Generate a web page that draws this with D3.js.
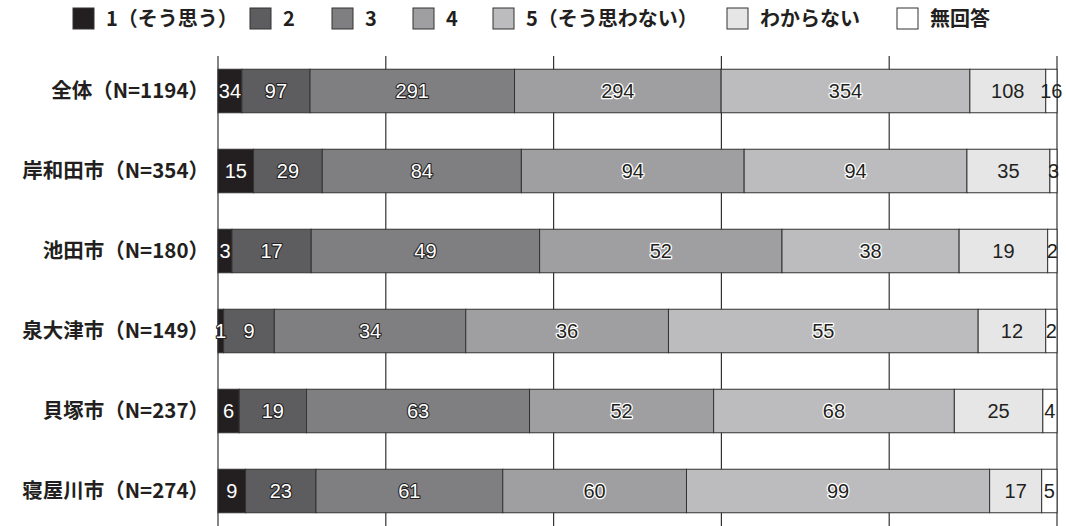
<!DOCTYPE html>
<html>
<head>
<meta charset="utf-8">
<script src="https://cdn.jsdelivr.net/npm/d3@7"></script>
<style>
  html, body { margin: 0; padding: 0; background: #fff; }
  svg { display: block; }
</style>
</head>
<body>
<svg id="chart" width="1066" height="526"></svg>
<script>
// Response categories (legend order, left to right in each bar)
const seriesNames = ["1（そう思う）", "2", "3", "4", "5（そう思わない）", "わからない", "無回答"];
const seriesColors = ["#231f20", "#5d5d5f", "#7f7f82", "#9f9fa2", "#bcbcbe", "#e6e6e7", "#ffffff"];

// Groups (rows)
const groups = ["全体（N=1194）", "岸和田市（N=354）", "池田市（N=180）", "泉大津市（N=149）", "貝塚市（N=237）", "寝屋川市（N=274）"];

// Counts per response category for each group
const counts1 = [34, 15, 3, 1, 6, 9];
const counts2 = [97, 29, 17, 9, 19, 23];
const counts3 = [291, 84, 49, 34, 63, 61];
const counts4 = [294, 94, 52, 36, 52, 60];
const counts5 = [354, 94, 38, 55, 68, 99];
const countsDK = [108, 35, 19, 12, 25, 17];
const countsNA = [16, 3, 2, 2, 4, 5];

const seriesCounts = [counts1, counts2, counts3, counts4, counts5, countsDK, countsNA];

// Gridline positions (share of the total)
const gridTicks = [0, 0.2, 0.4, 0.6, 0.8, 1.0];

const svg = d3.select("#chart");

const x = d3.scaleLinear().domain([0, 1]).range([218, 1057]);
const y = d3.scaleBand().domain(groups).range([51, 531]).paddingInner(0.456).paddingOuter(0.228);

// Build stacked rows as proportions of each group's total
const rows = groups.map((g, gi) => {
  const vals = seriesCounts.map(s => s[gi]);
  const total = d3.sum(vals);
  let acc = 0;
  return vals.map((v, si) => {
    const seg = { group: g, series: si, value: v, x0: acc / total, x1: (acc + v) / total };
    acc += v;
    return seg;
  });
});

// Vertical gridlines
svg.append("g")
  .selectAll("line")
  .data(gridTicks)
  .join("line")
  .attr("x1", d => x(d)).attr("x2", d => x(d))
  .attr("y1", 56).attr("y2", 526)
  .attr("stroke", "#333")
  .attr("stroke-width", 1.2);

// Bars
const segs = rows.flat();
svg.append("g")
  .selectAll("rect")
  .data(segs)
  .join("rect")
  .attr("x", d => x(d.x0))
  .attr("y", d => y(d.group))
  .attr("width", d => x(d.x1) - x(d.x0))
  .attr("height", y.bandwidth())
  .attr("fill", d => seriesColors[d.series])
  .attr("stroke", "#333")
  .attr("stroke-width", 1);

// Value labels: outlined white text on the dark segments, haloed dark text on the mid greys
const labelG = svg.append("g")
  .attr("font-family", "'Liberation Sans', Arial, sans-serif")
  .attr("font-size", 20)
  .attr("text-anchor", "middle");

labelG.selectAll("text")
  .data(segs)
  .join("text")
  .attr("x", d => (x(d.x0) + x(d.x1)) / 2)
  .attr("y", d => y(d.group) + y.bandwidth() / 2)
  .attr("dy", "0.36em")
  .attr("paint-order", "stroke")
  .attr("stroke-linejoin", "round")
  .attr("fill", d => d.series <= 2 ? "#ffffff" : "#231f20")
  .attr("stroke", d => d.series <= 2 ? "#231f20" : (d.series <= 4 ? "#ffffff" : "none"))
  .attr("stroke-width", d => d.series <= 2 ? 2.2 : 2.5)
  .text(d => d.value);

// Group labels
svg.append("g")
  .attr("font-family", "'Noto Sans CJK JP', sans-serif")
  .attr("font-weight", "bold")
  .attr("font-size", 20.5)
  .attr("text-anchor", "end")
  .attr("fill", "#231f20")
  .selectAll("text")
  .data(groups)
  .join("text")
  .attr("x", 209)
  .attr("y", d => y(d) + y.bandwidth() / 2)
  .attr("dy", "0.36em")
  .text(d => d);

// Legend
const legendX = [73, 250, 332, 413, 493, 727, 897];
const legend = svg.append("g")
  .attr("font-family", "'Noto Sans CJK JP', sans-serif")
  .attr("font-weight", "bold")
  .attr("font-size", 20)
  .attr("fill", "#231f20");

const item = legend.selectAll("g")
  .data(seriesNames)
  .join("g")
  .attr("transform", (d, i) => `translate(${legendX[i]},8)`);

item.append("rect")
  .attr("width", 21).attr("height", 21)
  .attr("fill", (d, i) => seriesColors[i])
  .attr("stroke", "#333")
  .attr("stroke-width", 1);

item.append("text")
  .attr("x", 33)
  .attr("y", 10.5)
  .attr("dy", "0.36em")
  .text(d => d);
</script>
</body>
</html>
